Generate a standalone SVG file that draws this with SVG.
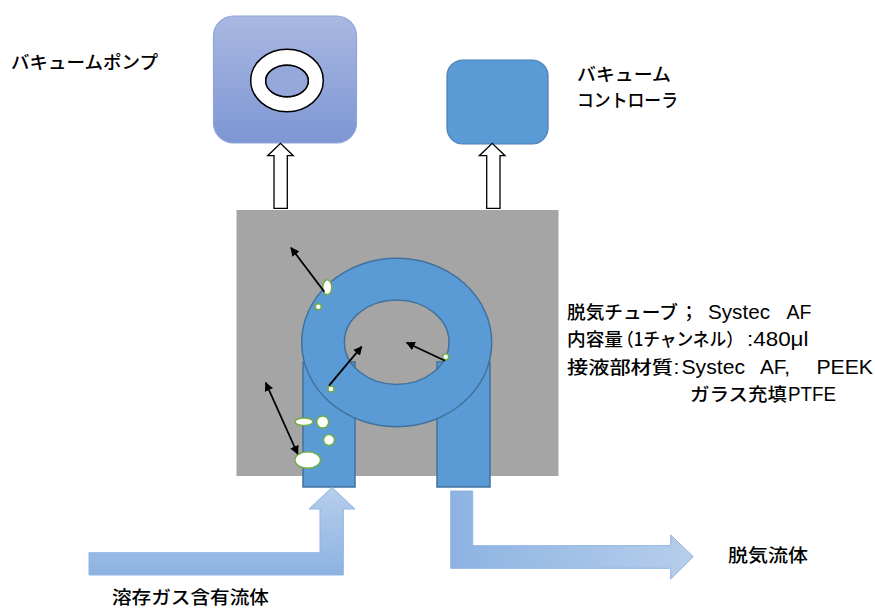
<svg xmlns="http://www.w3.org/2000/svg" width="875" height="609" viewBox="0 0 875 609">
  <defs>
    <linearGradient id="pumpFill" x1="0" y1="0" x2="0" y2="1">
      <stop offset="0" stop-color="#A9B8E2"/>
      <stop offset="1" stop-color="#7E96D3"/>
    </linearGradient>
    <linearGradient id="inFlow" x1="0" y1="0" x2="0" y2="1">
      <stop offset="0" stop-color="#B7CEEB"/>
      <stop offset="1" stop-color="#8DB3E2"/>
    </linearGradient>
    <linearGradient id="outFlow" x1="0" y1="0" x2="1" y2="0">
      <stop offset="0" stop-color="#8DB3E2"/>
      <stop offset="1" stop-color="#B7CEEB"/>
    </linearGradient>
    <marker id="head" viewBox="0 0 10 10" refX="9" refY="5" markerWidth="5" markerHeight="5" orient="auto-start-reverse" markerUnits="strokeWidth">
      <path d="M0,0 L10,5 L0,10 z" fill="#000"/>
    </marker>
    <style>
      .label { font-family: "Noto Sans CJK JP", "Liberation Sans", sans-serif; font-size: 18px; font-weight: 500; fill: #000; }
      .latin { font-family: "Liberation Sans", "Noto Sans CJK JP", sans-serif; font-size: 21px; font-weight: normal; }
      .tube { fill: #5B9BD5; stroke: #41719C; stroke-width: 1.5; }
      .bubble { fill: #FFFFFF; stroke: #70AD47; stroke-width: 1.5; }
      .hollow { fill: #FFFFFF; stroke: #000; stroke-width: 1.3; }
      .move { stroke: #000; stroke-width: 1.8; fill: none; marker-end: url(#head); }
      .flow { stroke: #8EB4E3; stroke-width: 1; }
    </style>
  </defs>

  <!-- vacuum pump -->
  <g id="vacuum-pump">
    <rect x="213.5" y="16" width="143" height="127" rx="20" fill="url(#pumpFill)" stroke="#8FA5DB" stroke-width="1.2"/>
    <path d="M250.7,80.5 a36.3,31.2 0 1,0 72.6,0 a36.3,31.2 0 1,0 -72.6,0 z M265.7,81 a21.3,15.7 0 1,0 42.6,0 a21.3,15.7 0 1,0 -42.6,0 z" fill="#FFFFFF" fill-rule="evenodd" stroke="#000" stroke-width="1.5"/>
    <ellipse cx="287" cy="81" rx="21.3" ry="15.7" fill="#94A8DB" stroke="#000" stroke-width="1.5"/>
    <text class="label" x="11" y="69" textLength="147" lengthAdjust="spacingAndGlyphs">バキュームポンプ</text>
  </g>

  <!-- vacuum controller -->
  <g id="vacuum-controller">
    <rect x="447" y="60" width="101" height="84" rx="16" fill="#5B9BD5" stroke="#4A7EB4" stroke-width="1.2"/>
    <text class="label" x="577" y="81" textLength="94" lengthAdjust="spacingAndGlyphs">バキューム</text>
    <text class="label" x="577" y="107" textLength="101" lengthAdjust="spacingAndGlyphs">コントローラ</text>
  </g>

  <!-- degassing chamber -->
  <g id="degasser">
    <rect x="236.5" y="210" width="322" height="266" fill="#A5A5A5"/>
    <rect class="tube" x="303" y="362" width="52" height="125"/>
    <rect class="tube" x="437" y="362" width="53" height="125"/>
    <path class="tube" fill-rule="evenodd" d="M301.7,342.5 a95,84.2 0 1,0 190,0 a95,84.2 0 1,0 -190,0 z M344.4,342.2 a52.3,42.2 0 1,0 104.6,0 a52.3,42.2 0 1,0 -104.6,0 z"/>
    <ellipse class="bubble" cx="327.3" cy="287.3" rx="4.5" ry="7.5"/>
    <circle class="bubble" cx="318.3" cy="306.7" r="3"/>
    <circle class="bubble" cx="331" cy="389" r="3"/>
    <circle class="bubble" cx="445.7" cy="356.7" r="3"/>
    <ellipse class="bubble" cx="304" cy="421.7" rx="9" ry="3.8"/>
    <circle class="bubble" cx="322.7" cy="422" r="6"/>
    <circle class="bubble" cx="329" cy="440" r="5.5"/>
    <ellipse class="bubble" cx="307.7" cy="460" rx="12.8" ry="8.3"/>
  </g>

  <!-- tube specification -->
  <g id="spec">
    <text class="label" y="319"><tspan x="567" textLength="111" lengthAdjust="spacingAndGlyphs">脱気チューブ</tspan><tspan x="680">；</tspan><tspan class="latin" x="708" textLength="62" lengthAdjust="spacingAndGlyphs">Systec</tspan><tspan class="latin" x="786.5" textLength="25" lengthAdjust="spacingAndGlyphs">AF</tspan></text>
    <text class="label" y="346"><tspan x="567" textLength="56" lengthAdjust="spacingAndGlyphs">内容量</tspan><tspan x="617" textLength="126" lengthAdjust="spacingAndGlyphs">（1チャンネル）</tspan><tspan class="latin" x="747" textLength="61.5" lengthAdjust="spacingAndGlyphs">:480μl</tspan></text>
    <text class="label" y="374"><tspan x="567" textLength="106" lengthAdjust="spacingAndGlyphs">接液部材質</tspan><tspan class="latin" x="673.5">:</tspan><tspan class="latin" x="681.5" textLength="63.5" lengthAdjust="spacingAndGlyphs">Systec</tspan><tspan class="latin" x="760" textLength="30" lengthAdjust="spacingAndGlyphs">AF,</tspan><tspan class="latin" x="816.5" textLength="56.5" lengthAdjust="spacingAndGlyphs">PEEK</tspan></text>
    <text class="label" y="401"><tspan x="690" textLength="97" lengthAdjust="spacingAndGlyphs">ガラス充填</tspan><tspan class="latin" x="788" textLength="48" lengthAdjust="spacingAndGlyphs">PTFE</tspan></text>
  </g>

  <g id="inlet-label">
    <text class="label" x="112" y="604" font-size="19" textLength="157" lengthAdjust="spacingAndGlyphs">溶存ガス含有流体</text>
  </g>
  <g id="outlet-label">
    <text class="label" x="728" y="562" font-size="19" textLength="80" lengthAdjust="spacingAndGlyphs">脱気流体</text>
  </g>

  <!-- connectors -->
  <g id="connectors">
    <path class="hollow" d="M274,208.3 V155.7 H267.7 L280.5,143.3 L293.3,155.7 H287.3 V208.3 z"/>
    <path class="hollow" d="M486.7,208.3 V155.7 H479.3 L492.2,143.3 L505,155.7 H500 V208.3 z"/>
    <path class="flow" fill="url(#inFlow)" d="M89,552.7 H320 V509 H309 L332,487.5 L355,509 H343.3 V575 H89 z"/>
    <path class="flow" fill="url(#outFlow)" d="M450.7,491 H472.7 V545.7 H670.7 V535 L693.3,556.7 L670.7,579 V568.3 H450.7 z"/>
    <line class="move" x1="324.3" y1="291.7" x2="291" y2="247.7"/>
    <line class="move" x1="329" y1="385.7" x2="361.7" y2="346.7"/>
    <line class="move" x1="445" y1="360.7" x2="406.7" y2="342.7"/>
    <line class="move" x1="265.7" y1="382.7" x2="297.7" y2="454" marker-start="url(#head)"/>
  </g>
</svg>
